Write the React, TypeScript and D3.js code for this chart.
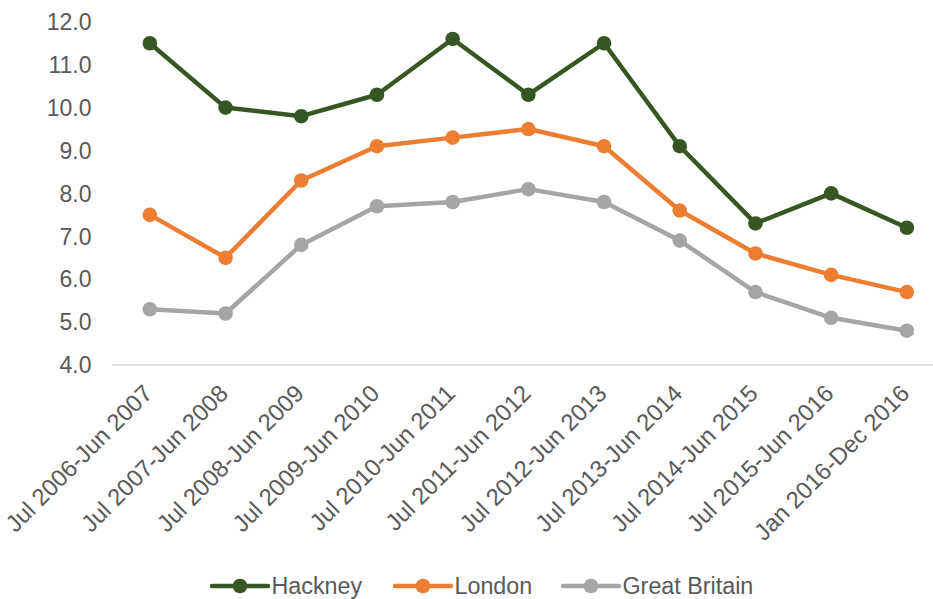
import React from "react";
import * as d3 from "d3";

const categories = [
  "Jul 2006-Jun 2007",
  "Jul 2007-Jun 2008",
  "Jul 2008-Jun 2009",
  "Jul 2009-Jun 2010",
  "Jul 2010-Jun 2011",
  "Jul 2011-Jun 2012",
  "Jul 2012-Jun 2013",
  "Jul 2013-Jun 2014",
  "Jul 2014-Jun 2015",
  "Jul 2015-Jun 2016",
  "Jan 2016-Dec 2016",
];
const hackney = [11.5, 10.0, 9.8, 10.3, 11.6, 10.3, 11.5, 9.1, 7.3, 8.0, 7.2];
const london = [7.5, 6.5, 8.3, 9.1, 9.3, 9.5, 9.1, 7.6, 6.6, 6.1, 5.7];
const greatBritain = [5.3, 5.2, 6.8, 7.7, 7.8, 8.1, 7.8, 6.9, 5.7, 5.1, 4.8];
const yTicks = [4, 5, 6, 7, 8, 9, 10, 11, 12];

const seriesNames = ["Hackney", "London", "Great Britain"];
const seriesValues = [hackney, london, greatBritain];
const colors = ["#375623", "#ED7D31", "#A5A5A5"];

const W = 933;
const H = 599;
const FONT = "'Liberation Sans', Arial, sans-serif";

export default function App() {
  const x = d3
    .scalePoint<string>()
    .domain(categories)
    .range([112, 112 + 11 * 75.7])
    .padding(0.5);
  const y = d3.scaleLinear().domain([4, 12]).range([365, 21.8]);
  const line = d3
    .line<number>()
    .x((_, i) => x(categories[i]) as number)
    .y((d) => y(d));

  const legendX = [212, 395, 563];

  return (
    <svg
      width={W}
      height={H}
      style={{ position: "absolute", left: 0, top: 0, background: "#fff" }}
      fontFamily={FONT}
    >
      <rect width={W} height={H} fill="#fff" />
      {/* y axis labels */}
      {yTicks.map((t) => (
        <text
          key={t}
          x={91.5}
          y={y(t)}
          dy="0.36em"
          textAnchor="end"
          fontSize={23}
          fill="#595959"
        >
          {d3.format(".1f")(t)}
        </text>
      ))}
      {/* x axis line */}
      <line x1={112} x2={W} y1={y(4)} y2={y(4)} stroke="#D9D9D9" strokeWidth={1.5} />
      {/* x labels */}
      {categories.map((c) => (
        <text
          key={c}
          transform={`translate(${(x(c) as number) + 4},395) rotate(-45)`}
          textAnchor="end"
          fontSize={23.8}
          fill="#595959"
        >
          {c}
        </text>
      ))}
      {/* series */}
      {seriesValues.map((vals, si) => (
        <g key={seriesNames[si]}>
          <path
            d={line(vals) || ""}
            fill="none"
            stroke={colors[si]}
            strokeWidth={4.5}
            strokeLinejoin="round"
            strokeLinecap="round"
          />
          {vals.map((v, i) => (
            <circle
              key={i}
              cx={x(categories[i]) as number}
              cy={y(v)}
              r={7.3}
              fill={colors[si]}
            />
          ))}
        </g>
      ))}
      {/* legend */}
      {seriesNames.map((n, si) => (
        <g key={n} transform={`translate(${legendX[si]},586)`}>
          <line x1={0} x2={56} y1={0} y2={0} stroke={colors[si]} strokeWidth={4.5} strokeLinecap="round" />
          <circle cx={28} cy={0} r={7.3} fill={colors[si]} />
          <text x={59.5} y={0} dy="0.36em" fontSize={23.3} fill="#595959">
            {n}
          </text>
        </g>
      ))}
    </svg>
  );
}
